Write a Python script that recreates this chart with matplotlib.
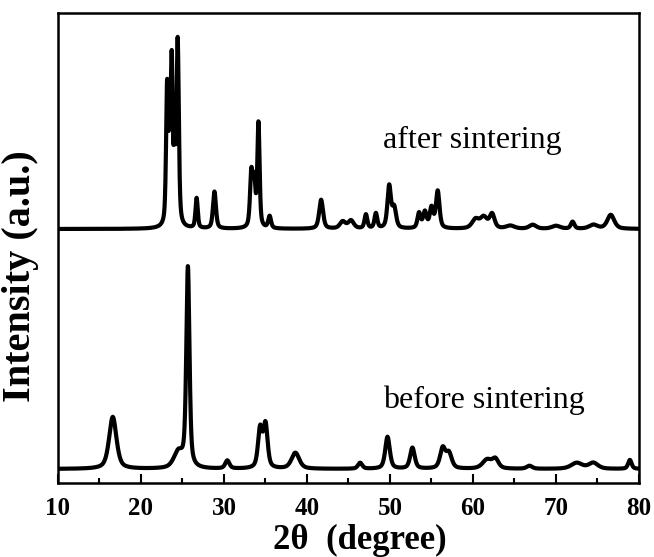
import numpy as np
import matplotlib
matplotlib.use("Agg")
import matplotlib.pyplot as plt
from matplotlib.ticker import MultipleLocator

# ---- data (peak centre [deg], height [a.u.], FWHM [deg]) ----
after_baseline = 254
after_pos = [23.15, 23.45, 23.7, 24.05, 24.42, 26.7, 28.85, 33.3, 33.65, 34.15,
             35.5, 41.7, 44.3, 45.3, 47.1, 48.3, 49.9, 50.5, 53.5, 54.2,
             55.0, 55.75, 60.3, 61.3, 62.3, 64.5, 67.2, 70.0, 72.0, 74.5, 76.6]
after_height = [138, 70, 160, 75, 184, 30, 37, 55, 42, 104,
                12, 29, 7, 8, 14, 15, 42, 20, 15, 16,
                20, 37, 9, 11, 14, 3, 4, 3, 7, 4, 14]
after_width = [0.3, 0.2, 0.3, 0.2, 0.32, 0.32, 0.42, 0.38, 0.32, 0.32,
               0.4, 0.55, 0.8, 0.8, 0.4, 0.4, 0.5, 0.55, 0.45, 0.5,
               0.5, 0.5, 1.0, 1.0, 0.7, 1.2, 1.0, 1.2, 0.5, 1.2, 1.0]

before_baseline = 14
before_pos = [16.6, 24.5, 25.65, 30.4, 34.35, 35.0, 38.6, 46.4, 49.7, 52.7,
              56.35, 57.1, 61.7, 62.7, 66.8, 72.5, 74.5, 78.9]
before_height = [52, 16, 200, 8, 39, 43, 16, 6, 32, 21,
                 20, 15, 9, 9, 3, 6, 6, 9]
before_width = [1.05, 1.3, 0.45, 0.6, 0.6, 0.6, 1.1, 0.6, 0.65, 0.65,
                0.75, 0.8, 1.3, 0.9, 0.8, 1.6, 1.3, 0.5]

x_ticks = [10, 20, 30, 40, 50, 60, 70, 80]
x_label = "2θ  (degree)"
y_label = "Intensity (a.u.)"
label_after = "after sintering"
label_before = "before sintering"

# ---- build profiles from the peak table (pseudo-Voigt shapes) ----
two_theta = np.arange(10.0, 80.001, 0.02)


def profile(base, pos, height, width, eta=0.55):
    y = np.full_like(two_theta, float(base))
    for c, h, w in zip(pos, height, width):
        d = (two_theta - c) / (w / 2.0)
        lor = 1.0 / (1.0 + d ** 2)
        gau = np.exp(-np.log(2) * d ** 2)
        y += h * (eta * lor + (1 - eta) * gau)
    return y


y_after = profile(after_baseline, after_pos, after_height, after_width)
y_before = profile(before_baseline, before_pos, before_height, before_width)

# ---- figure ----
fig = plt.figure(figsize=(6.54, 5.57), dpi=100)
ax = fig.add_axes([58 / 654, 1 - 483 / 557, (639 - 58) / 654, (483 - 13) / 557])

ax.plot(two_theta, y_after, color="black", lw=3.0, solid_joinstyle="round")
ax.plot(two_theta, y_before, color="black", lw=3.0, solid_joinstyle="round")

ax.set_xlim(10, 80)
ax.set_ylim(0, 470)

serif = "Liberation Serif"
ax.set_xticks(x_ticks)
ax.xaxis.set_minor_locator(MultipleLocator(5))
ax.set_xticklabels([str(t) for t in x_ticks], fontfamily=serif,
                   fontweight="bold", fontsize=18)
ax.set_yticks([])
ax.tick_params(axis="x", which="major", direction="in", length=6.5, width=1.5,
               pad=10, top=False)
ax.tick_params(axis="x", which="minor", direction="in", length=3.6, width=1.5,
               top=False)
for s in ax.spines.values():
    s.set_linewidth(1.8)

ax.set_xlabel(x_label, fontfamily=serif, fontweight="bold", fontsize=25,
              va="baseline")
ax.xaxis.set_label_coords(0.52, -0.14)
ax.set_ylabel(y_label, fontfamily=serif, fontweight="bold", fontsize=29)
ax.yaxis.set_label_coords(-0.032, 0.44)

ax.text(49.2, 343, label_after, fontfamily=serif, fontsize=23,
        ha="left", va="center")
ax.text(49.2, 83, label_before, fontfamily=serif, fontsize=23,
        ha="left", va="center")

fig.savefig("out.png", dpi=100)
